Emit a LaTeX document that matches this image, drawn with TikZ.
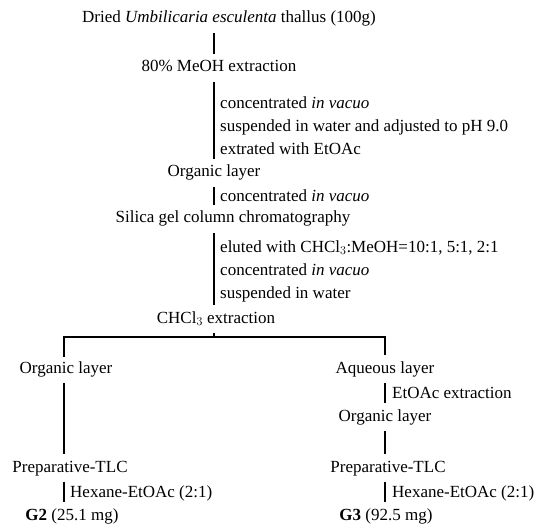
\documentclass[tikz,border=0pt]{standalone}
\usepackage{fontspec}
\setmainfont{Liberation Serif}
\usepackage{xcolor}
\usetikzlibrary{calc}
\newcommand{\flowfont}{\fontsize{17}{23}\selectfont}
\tikzset{
  stepText/.style={font=\flowfont, inner sep=4pt, text height=12pt, text depth=4pt},
  noteText/.style={font=\flowfont, align=left, anchor=west, inner sep=0pt},
  flowLine/.style={line width=1.6pt, shorten <=2pt, shorten >=2pt},
  branchLine/.style={line width=1.3pt}
}

\begin{document}
\begin{tikzpicture}[x=1pt,y=-1pt]
  \useasboundingbox (0,0) rectangle (545,526);

  \coordinate (axis) at (214,0);

  \node[stepText] (dried) at (229,19) {Dried \textit{Umbilicaria esculenta} thallus (100g)};
  \node[stepText] (meoh) at (219,68) {80\% MeOH extraction};
  \node[noteText] (n1) at (220,126) {concentrated \textit{in vacuo}\\suspended in water and adjusted to pH 9.0\\extrated with EtOAc};
  \node[stepText] (org1) at (214,173) {Organic layer};
  \node[noteText] (n2) at (220,196) {concentrated \textit{in vacuo}};
  \node[stepText] (silica) at (233,219) {Silica gel column chromatography};
  \node[noteText] (n3) at (220,271) {eluted with CHCl$_3$:MeOH=10:1, 5:1, 2:1\\concentrated \textit{in vacuo}\\suspended in water};
  \node[stepText] (chcl) at (216,319) {CHCl$_3$ extraction};

  \draw[flowLine] (axis |- dried.south) -- (axis |- meoh.north);
  \draw[flowLine] (axis |- meoh.south) -- (axis |- org1.north);
  \draw[flowLine] (axis |- org1.south) -- (axis |- silica.north);
  \draw[flowLine] (axis |- silica.south) -- (axis |- chcl.north);

  % branching
  \coordinate (split) at (214,337);
  \coordinate (splitL) at (64,337);
  \coordinate (splitR) at (385,337);

  \node[stepText] (orgL) at (66,369) {Organic layer};
  \node[stepText] (prepL) at (70,468) {Preparative-TLC};
  \node[noteText] (n4) at (70,493) {Hexane-EtOAc (2:1)};
  \node[stepText] (g2) at (72,516) {\textbf{G2} (25.1 mg)};

  \node[stepText] (aq) at (385,369) {Aqueous layer};
  \node[noteText] (n5) at (392,393) {EtOAc extraction};
  \node[stepText] (orgR) at (385,417) {Organic layer};
  \node[stepText] (prepR) at (388,468) {Preparative-TLC};
  \node[noteText] (n6) at (392,493) {Hexane-EtOAc (2:1)};
  \node[stepText] (g3) at (386,516) {\textbf{G3} (92.5 mg)};

  \draw[flowLine, shorten >=0pt] (axis |- chcl.south) -- (split);
  \draw[branchLine, shorten >=2pt] (splitL |- orgL.north) -- (splitL) -- (splitR) -- (splitR |- aq.north);
  \draw[flowLine] (splitL |- orgL.south) -- (splitL |- prepL.north);
  \draw[flowLine] (splitL |- prepL.south) -- (splitL |- g2.north);
  \draw[flowLine] (splitR |- aq.south) -- (splitR |- orgR.north);
  \draw[flowLine] (splitR |- orgR.south) -- (splitR |- prepR.north);
  \draw[flowLine] (splitR |- prepR.south) -- (splitR |- g3.north);
\end{tikzpicture}
\end{document}
